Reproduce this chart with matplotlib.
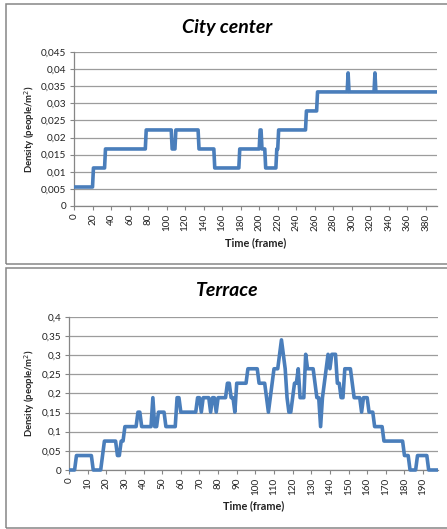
import numpy as np
import matplotlib
matplotlib.use("Agg")
import matplotlib.pyplot as plt
from matplotlib.patches import Rectangle

# ---- City center: people counted in the zone, as (count, duration in frames) runs
city_area = 180.0  # m²
city_people = [1, 2, 3, 4, 3, 4, 3, 2, 3, 4, 3, 2, 3, 4, 5, 6, 7, 6, 7, 6]
city_frames = [21, 13, 44, 28, 4, 25, 17, 27, 22, 2, 4, 12, 2, 30, 12, 33, 1, 28, 1, 67]
city_yticks = [0, 0.005, 0.01, 0.015, 0.02, 0.025, 0.03, 0.035, 0.04, 0.045]
city_ylabels = ["0", "0,005", "0,01", "0,015", "0,02", "0,025", "0,03", "0,035", "0,04", "0,045"]
city_xticks = list(range(0, 381, 20))

# ---- Terrace
terrace_area = 26.5  # m²
terrace_people = [0, 1, 0, 1, 2, 1, 2, 3, 4, 3, 5, 3, 4, 3, 5, 4, 5, 4, 5, 4,
                  5, 4, 5, 6, 5, 4, 6, 7, 6, 5, 4, 5, 6, 7, 8, 9, 8, 7, 5, 4,
                  5, 6, 7, 5, 8, 7, 6, 5, 3, 5, 6, 7, 8, 7, 8, 6, 5, 7, 6, 5,
                  4, 5, 4, 3, 2, 1, 0, 1, 0]
terrace_frames = [4, 9, 5, 1, 7, 2, 2, 7, 2, 6, 1, 2, 4, 6, 2, 9, 2, 1, 4, 1,
                  2, 1, 5, 2, 2, 1, 6, 6, 4, 1, 1, 1, 1, 3, 1, 1, 1, 1, 1, 2,
                  1, 2, 1, 3, 1, 4, 1, 2, 1, 1, 1, 1, 1, 1, 3, 2, 2, 4, 1, 4,
                  1, 3, 3, 5, 11, 3, 4, 6, 6]
terrace_yticks = [0, 0.05, 0.1, 0.15, 0.2, 0.25, 0.3, 0.35, 0.4]
terrace_ylabels = ["0", "0,05", "0,1", "0,15", "0,2", "0,25", "0,3", "0,35", "0,4"]
terrace_xticks = list(range(0, 191, 10))

LINE = "#4a7ebb"
GRID = "#9c9c9c"
AXIS = "#868686"
TEXT = "#222222"
FONT = "Lato"

W, H = 447, 529
fig = plt.figure(figsize=(W / 100, H / 100), dpi=100)


def box(l, t, r, b):
    return [l / W, 1 - b / H, (r - l) / W, (b - t) / H]


def panel(t, b):
    fig.patches.append(Rectangle((5.5 / W, 1 - b / H), 460 / W, (b - t) / H,
                                 transform=fig.transFigure, fill=False,
                                 edgecolor=AXIS, lw=1.1, zorder=0))


def draw(ax, people, frames, area, yticks, ylabels, xticks, title, title_y):
    density = np.repeat(people, frames) / area
    t = np.arange(len(density))
    ax.plot(t, density, color=LINE, lw=2.6, solid_joinstyle="round",
            solid_capstyle="butt", clip_on=False, zorder=5)
    ax.set_xlim(0, len(density) - 1)
    ax.set_ylim(yticks[0], yticks[-1])
    ax.set_yticks(yticks)
    ax.set_yticklabels(ylabels)
    ax.set_xticks(xticks)
    ax.set_xticklabels([str(v) for v in xticks], rotation=90)
    ax.grid(axis="y", color=GRID, lw=0.9)
    ax.set_axisbelow(True)
    for s in ("top", "right"):
        ax.spines[s].set_visible(False)
    for s in ("left", "bottom"):
        ax.spines[s].set_color(AXIS)
        ax.spines[s].set_linewidth(0.9)
    ax.tick_params(axis="both", colors=AXIS, labelcolor=TEXT, length=3,
                   width=0.8, labelsize=7.2, pad=2.5)
    for lab in ax.get_xticklabels() + ax.get_yticklabels():
        lab.set_fontfamily(FONT)
    ax.set_xlabel("Time (frame)", fontfamily=FONT, fontweight="bold",
                  fontsize=7.8, color=TEXT, labelpad=4)
    ax.set_ylabel("Density (people/m$^2$)", fontfamily=FONT, fontweight="bold",
                  fontsize=6.8, color=TEXT, labelpad=3)
    fig.text(0.508, 1 - title_y / H, title, ha="center", va="center",
             fontfamily=FONT, fontweight="bold", fontstyle="italic",
             fontsize=14, color="black")


panel(3.5, 264)
panel(267.5, 527.5)

ax1 = fig.add_axes(box(74, 52, 437, 206))
draw(ax1, city_people, city_frames, city_area, city_yticks, city_ylabels,
     city_xticks, "City center", 27)

ax2 = fig.add_axes(box(69, 316.7, 438, 470))
draw(ax2, terrace_people, terrace_frames, terrace_area, terrace_yticks,
     terrace_ylabels, terrace_xticks, "Terrace", 291)

fig.savefig("out.png", dpi=100)
